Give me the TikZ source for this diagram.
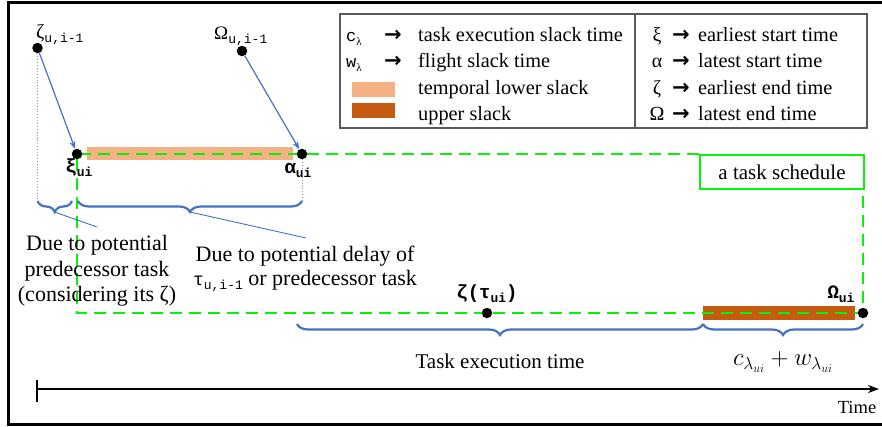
\documentclass[tikz,border=0pt]{standalone}
\usepackage{fontspec}
\setmainfont{Liberation Serif}
\newfontfamily\monof{Liberation Mono}
\newfontfamily\djv{DejaVu Sans}
\usetikzlibrary{arrows.meta,decorations.pathreplacing}
\definecolor{schedgreen}{RGB}{10,240,10}
\definecolor{lowslack}{RGB}{244,177,131}
\definecolor{upslack}{RGB}{197,90,17}
\definecolor{linkblue}{RGB}{68,114,196}
\definecolor{legendgray}{RGB}{90,90,90}
\newcommand{\msub}[1]{\raisebox{-4pt}{\monof\fontsize{13}{13}\selectfont #1}}
\newcommand{\bsub}[1]{\raisebox{-4pt}{\monof\bfseries\fontsize{13}{13}\selectfont #1}}
\newcommand{\lsub}{\raisebox{-4pt}{\fontsize{11}{11}\selectfont λ}}
\begin{document}
\begin{tikzpicture}[x=1pt,y=-1pt,
  dot/.style={circle,fill=black,inner sep=0pt,minimum size=10.5pt},
  txt/.style={font=\fontsize{21}{25}\selectfont, inner sep=0pt},
  legtxt/.style={font=\fontsize{20.3}{24}\selectfont, inner sep=0pt, anchor=base west},
  legsym/.style={inner sep=0pt, anchor=base},
  legarrow/.style={font=\djv\bfseries\fontsize{21}{21}\selectfont, inner sep=0pt, anchor=base},
  schedline/.style={draw=schedgreen, line width=2.5pt, dash pattern=on 12pt off 7pt},
  bluearrow/.style={draw=linkblue, line width=1.2pt, -{Stealth[length=8pt,width=6pt]}},
  bluedots/.style={draw=linkblue!70, line width=0.9pt, dotted},
  bluebrace/.style={draw=linkblue, line width=2.2pt, decorate, decoration={brace, mirror, amplitude=11pt}},
  callout/.style={draw=linkblue, line width=0.9pt},
  boldlbl/.style={inner sep=0pt, font=\monof\bfseries\fontsize{19}{19}\selectfont}
]
\useasboundingbox (0,0) rectangle (882,426);
% outer frame
\draw[line width=3pt] (895,2) -- (8,2) -- (8,424) -- (895,424);

% legend
\draw[legendgray, line width=1.3pt] (340,14) rectangle (867,128);
\draw[legendgray, line width=1.3pt] (635,14) -- (635,128);
\node[legsym, anchor=base west] (lc) at (346,41) {{\monof\fontsize{17}{17}\selectfont c}\lsub};
\node[legsym, anchor=base west] (lw) at (346,67.5) {{\monof\fontsize{17}{17}\selectfont w}\lsub};
\node[legarrow] (la1) at (393,41) {→};
\node[legarrow] (la2) at (393,67.5) {→};
\fill[lowslack] (352,82) rectangle (395,97);
\fill[upslack] (352,103) rectangle (395,118);
\node[legtxt] (lt1) at (418,41) {task execution slack time};
\node[legtxt] (lt2) at (418,67.5) {flight slack time};
\node[legtxt] (lt3) at (418,94) {temporal lower slack};
\node[legtxt] (lt4) at (418,120.5) {upper slack};
\node[legsym, font=\fontsize{20}{20}\selectfont] (g1) at (657,41) {ξ};
\node[legsym, font=\fontsize{20}{20}\selectfont] (g2) at (657,67.5) {α};
\node[legsym, font=\fontsize{20}{20}\selectfont] (g3) at (657,94) {ζ};
\node[legsym, font=\fontsize{20}{20}\selectfont] (g4) at (657,120.5) {Ω};
\node[legarrow] (ra1) at (681,41) {→};
\node[legarrow] (ra2) at (681,67.5) {→};
\node[legarrow] (ra3) at (681,94) {→};
\node[legarrow] (ra4) at (681,120.5) {→};
\node[legtxt] (rt1) at (698,41) {earliest start time};
\node[legtxt] (rt2) at (698,67.5) {latest start time};
\node[legtxt] (rt3) at (698,94) {earliest end time};
\node[legtxt] (rt4) at (698,120.5) {latest end time};

% slack bars
\fill[lowslack] (87,147) rectangle (293,160);
\fill[upslack] (703,305.5) rectangle (855,319.5);

% task schedule box and dashed frame
\node[draw=schedgreen, line width=2pt, minimum width=164pt, minimum height=34pt, txt] (sched) at (782,172) {a task schedule};
\coordinate (xi0) at (77,154);
\coordinate (omega0) at (863,313);
\draw[schedline] (sched.north west) -- (xi0) -- (xi0 |- omega0) -- (omega0) -- (omega0 |- sched.south);

% dots
\node[dot] (zprev) at (37.5,48) {};
\node[dot] (oprev) at (242,51) {};
\node[dot] (xi) at (xi0) {};
\node[dot] (alpha) at (302,154) {};
\node[dot] (zeta) at (487,313) {};
\node[dot] (omega) at (omega0) {};

% labels of dots
\node[inner sep=0pt, anchor=base west] (lzprev) at (36,38) {{\fontsize{20}{20}\selectfont ζ}\msub{u,i-1}};
\node[inner sep=0pt, anchor=base west] (loprev) at (214,39) {{\fontsize{19}{19}\selectfont Ω}\msub{u,i-1}};
\node[boldlbl, anchor=base] (lxi) at (79,172) {ξ\bsub{ui}};
\node[boldlbl, anchor=base] (lalpha) at (298,173) {α\bsub{ui}};
\node[boldlbl, anchor=base] (lzeta) at (487,298) {ζ(τ\bsub{ui})};
\node[boldlbl, anchor=base] (lomega) at (841,298) {Ω\bsub{ui}};

% arrows from predecessor
\draw[bluearrow] (zprev) -- (xi);
\draw[bluearrow] (oprev) -- (alpha);

% dotted guides and braces (top)
\coordinate (b1l) at (37.5,201);
\coordinate (b1r) at (72,201);
\coordinate (b2l) at (78,201);
\coordinate (b2r) at (302,201);
\draw[bluedots] (zprev) -- (b1l);
\draw[bluedots] (alpha) -- (b2r);
\draw[bluebrace] (b1l) -- (b1r);
\draw[bluebrace] (b2l) -- (b2r);
\coordinate (t1) at (54.5,212);
\coordinate (t2) at (190,212);
\coordinate (c1) at (97,227);
\coordinate (c2) at (306,238);
\draw[callout] (t1) -- (c1);
\draw[callout] (t2) -- (c2);

% callout texts
\node[txt, font=\fontsize{22}{25.5}\selectfont, align=center] (due1) at (97,271) {Due to potential\\predecessor task\\(considering its ζ)};
\node[txt, font=\fontsize{22}{24.5}\selectfont, align=center] (due2) at (305,269) {Due to potential delay of\\{\monof\fontsize{18}{18}\selectfont τ}\msub{u,i-1} or predecessor task};

% bottom braces
\coordinate (b3l) at (297,324);
\coordinate (b3r) at (703,324);
\coordinate (b4l) at (703,324);
\coordinate (b4r) at (863,324);
\draw[bluebrace] (b3l) -- (b3r);
\draw[bluebrace] (b4l) -- (b4r);
\node[txt] (exec) at (500,361) {Task execution time};
\node[inner sep=0pt, font=\fontsize{25}{25}\selectfont] (cw) at (783,362) {$c_{\lambda_{ui}} + w_{\lambda_{ui}}$};

% time axis
\coordinate (axs) at (37,389);
\coordinate (axe) at (879,389);
\draw[line width=2pt, -{Stealth[length=11pt,width=8pt]}] (axs) -- (axe);
\draw[line width=2pt] (37,380) -- (37,402);
\node[inner sep=0pt, font=\fontsize{18.5}{20}\selectfont] (time) at (857,407) {Time};
\end{tikzpicture}
\end{document}
